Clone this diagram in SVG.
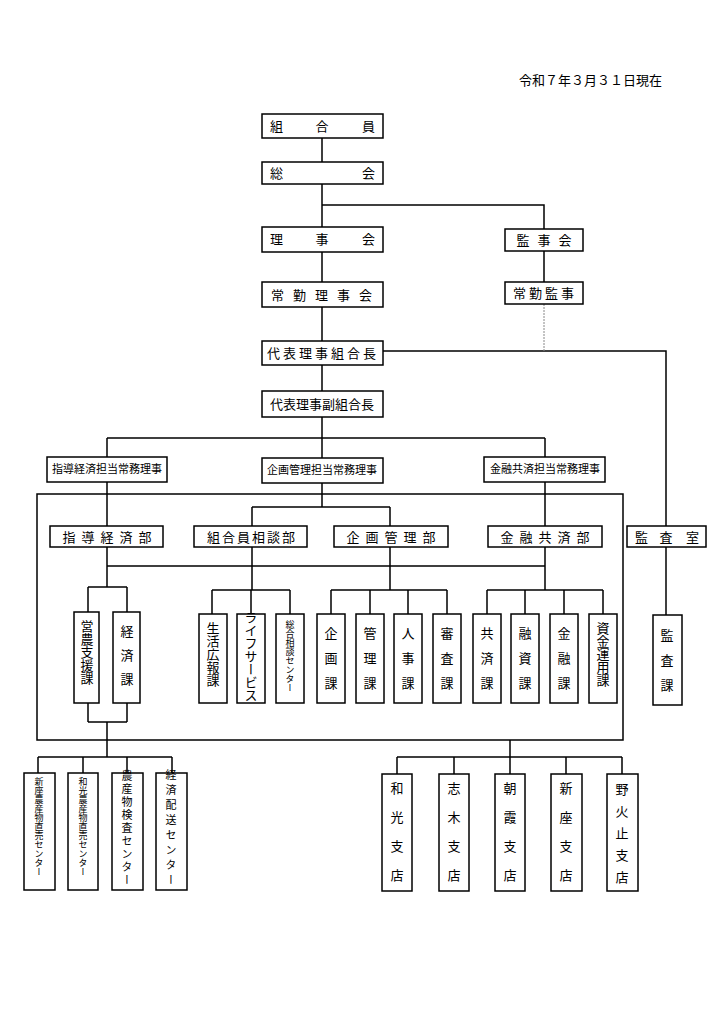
<svg xmlns="http://www.w3.org/2000/svg" width="724" height="1024" viewBox="0 0 724 1024">
<style>
rect{fill:#fff;stroke:#000;stroke-width:1.5}
text{font-family:"Noto Sans CJK JP","Noto Sans CJK SC",serif;font-size:13px;fill:#000}
.s{font-size:11px}
.t{font-size:9px}
.v{writing-mode:vertical-rl;text-anchor:middle}
#c path{fill:none;stroke:#000;stroke-width:1.5}
</style>
<rect x="0" y="0" width="724" height="1024" style="stroke:none"/>
<text x="662" y="85" text-anchor="end">令和７年３月３１日現在</text>
<g id="c">
<path d="M322 138V162M322 184V227M322 205H544V229M322 252V282M544 251V282M322 307V341M322 365V391M383 351H666V526M322 417V438M107 438H545M107 438V457M322 438V458M545 438V457"/>
<path d="M544 304V351" style="stroke:#888;stroke-width:1;stroke-dasharray:2 1"/>
<path d="M37 494H623V740H37Z"/>
<path d="M107 482V526M545 482V526M322 483V507M252 507H390M252 507V526M390 507V526"/>
<path d="M107 547V587M107 566H545M545 547V590M390 547V590M252 547V590M88 587H127M88 587V612M127 587V612"/>
<path d="M212 590H290M212 590V614M251 590V614M290 590V614"/>
<path d="M331 590H447M331 590V614M370 590V614M408 590V614M447 590V614"/>
<path d="M487 590H603M487 590V614M525 590V614M564 590V614M603 590V614"/>
<path d="M666 547V615"/>
<path d="M88 703V722M127 703V722M88 722H127M107 722V757M38 757H172M38 757V773M83 757V773M127 757V773M172 757V773"/>
<path d="M510 740V757M397 757H622M397 757V774M454 757V774M510 757V774M566 757V774M622 757V774"/>
</g>
<g id="n1"><rect x="262" y="114" width="121" height="24"/><text x="270" y="131">組</text><text x="322" y="131" text-anchor="middle">合</text><text x="375" y="131" text-anchor="end">員</text></g>
<g id="n2"><rect x="262" y="162" width="121" height="22"/><text x="270" y="178">総</text><text x="375" y="178" text-anchor="end">会</text></g>
<g id="n3"><rect x="262" y="227" width="121" height="25"/><text x="270" y="244">理</text><text x="322" y="244" text-anchor="middle">事</text><text x="375" y="244" text-anchor="end">会</text></g>
<g id="n4"><rect x="505" y="229" width="78" height="22"/><text x="548" y="245" text-anchor="middle" letter-spacing="8">監事会</text></g>
<g id="n5"><rect x="262" y="282" width="121" height="25"/><text x="326" y="300" text-anchor="middle" letter-spacing="9">常勤理事会</text></g>
<g id="n6"><rect x="505" y="282" width="78" height="22"/><text x="545" y="298" text-anchor="middle" letter-spacing="3">常勤監事</text></g>
<g id="n7"><rect x="262" y="341" width="121" height="24"/><text x="323" y="358" text-anchor="middle" letter-spacing="3">代表理事組合長</text></g>
<g id="n8"><rect x="262" y="391" width="121" height="26"/><text x="322" y="409" text-anchor="middle">代表理事副組合長</text></g>
<g id="n9"><rect x="47" y="457" width="120" height="25"/><text x="107" y="473" text-anchor="middle" class="s">指導経済担当常務理事</text></g>
<g id="n10"><rect x="262" y="458" width="121" height="25"/><text x="322" y="474" text-anchor="middle" class="s">企画管理担当常務理事</text></g>
<g id="n11"><rect x="484" y="457" width="121" height="25"/><text x="545" y="473" text-anchor="middle" class="s">金融共済担当常務理事</text></g>
<g id="d1"><rect x="50" y="526" width="113" height="21"/><text x="110" y="542" text-anchor="middle" letter-spacing="6">指導経済部</text></g>
<g id="d2"><rect x="194" y="526" width="113" height="21"/><text x="252" y="542" text-anchor="middle" letter-spacing="2">組合員相談部</text></g>
<g id="d3"><rect x="334" y="526" width="114" height="21"/><text x="394" y="542" text-anchor="middle" letter-spacing="6">企画管理部</text></g>
<g id="d4"><rect x="488" y="526" width="114" height="21"/><text x="548" y="542" text-anchor="middle" letter-spacing="6">金融共済部</text></g>
<g id="d5"><rect x="627" y="526" width="79" height="21"/><text x="635" y="542">監</text><text x="666" y="542" text-anchor="middle">査</text><text x="699" y="542" text-anchor="end">室</text></g>
<g id="k1"><rect x="74" y="612" width="25" height="91"/><text x="87" y="652" class="v">営農支援課</text></g>
<g id="k2"><rect x="113" y="612" width="27" height="91"/><text x="127" y="661" class="v" letter-spacing="11">経済課</text></g>
<g id="k3"><rect x="199" y="614" width="28" height="89"/><text x="213" y="654" class="v">生活広報課</text></g>
<g id="k4"><rect x="237" y="614" width="28" height="89"/><text x="251" y="656" class="v">ライフサービス</text></g>
<g id="k5"><rect x="276" y="614" width="28" height="89"/><text x="290" y="656" class="v t">総合相談センター</text></g>
<g id="k6"><rect x="317" y="614" width="28" height="89"/><text x="331" y="664" class="v" letter-spacing="12">企画課</text></g>
<g id="k7"><rect x="356" y="614" width="28" height="89"/><text x="370" y="664" class="v" letter-spacing="12">管理課</text></g>
<g id="k8"><rect x="394" y="614" width="28" height="89"/><text x="408" y="664" class="v" letter-spacing="12">人事課</text></g>
<g id="k9"><rect x="433" y="614" width="28" height="89"/><text x="447" y="664" class="v" letter-spacing="12">審査課</text></g>
<g id="k10"><rect x="473" y="614" width="28" height="89"/><text x="487" y="664" class="v" letter-spacing="12">共済課</text></g>
<g id="k11"><rect x="511" y="614" width="28" height="89"/><text x="525" y="664" class="v" letter-spacing="12">融資課</text></g>
<g id="k12"><rect x="550" y="614" width="28" height="89"/><text x="564" y="664" class="v" letter-spacing="12">金融課</text></g>
<g id="k13"><rect x="589" y="614" width="28" height="89"/><text x="603" y="654" class="v">資金運用課</text></g>
<g id="k14"><rect x="653" y="615" width="29" height="90"/><text x="667" y="666" class="v" letter-spacing="12">監査課</text></g>
<g id="b1"><rect x="24" y="773" width="31" height="117"/><text x="39" y="827" class="v t">新座農産物直売センター</text></g>
<g id="b2"><rect x="68" y="773" width="30" height="117"/><text x="83" y="827" class="v t">和光農産物直売センター</text></g>
<g id="b3"><rect x="112" y="773" width="31" height="117"/><text x="127" y="829" class="v s" letter-spacing="2">農産物検査センター</text></g>
<g id="b4"><rect x="156" y="773" width="31" height="117"/><text x="171" y="829" class="v s" letter-spacing="4">経済配送センター</text></g>
<g id="b5"><rect x="382" y="774" width="30" height="117"/><text x="397" y="840" class="v" letter-spacing="16">和光支店</text></g>
<g id="b6"><rect x="439" y="774" width="30" height="117"/><text x="454" y="840" class="v" letter-spacing="16">志木支店</text></g>
<g id="b7"><rect x="495" y="774" width="30" height="117"/><text x="510" y="840" class="v" letter-spacing="16">朝霞支店</text></g>
<g id="b8"><rect x="551" y="774" width="31" height="117"/><text x="566" y="840" class="v" letter-spacing="16">新座支店</text></g>
<g id="b9"><rect x="607" y="774" width="31" height="117"/><text x="622" y="838" class="v" letter-spacing="9">野火止支店</text></g>
</svg>
